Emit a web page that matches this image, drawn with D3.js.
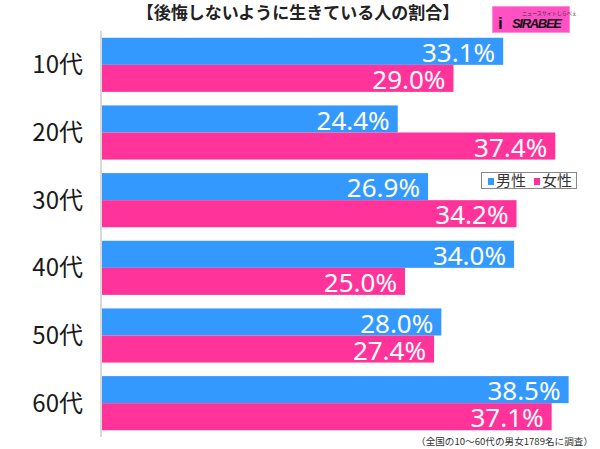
<!DOCTYPE html>
<html><head><meta charset="utf-8">
<script src="https://cdn.jsdelivr.net/npm/d3@7/dist/d3.min.js"></script>
<style>body{margin:0;background:#fff}svg{display:block}</style>
</head><body>
<svg id="c" width="600" height="449"></svg>
<script>
const categories = ["10代","20代","30代","40代","50代","60代"];
const seriesNames = ["男性","女性"];
const male = [33.1, 24.4, 26.9, 34.0, 28.0, 38.5];
const female = [29.0, 37.4, 34.2, 25.0, 27.4, 37.1];
const colors = ["#3399ff","#ff3399"];
const title = "【後悔しないように生きている人の割合】";
const footnote = "（全国の10～60代の男女1789名に調査）";

const svg = d3.select("#c");
const jp = "'Noto Sans CJK JP','Noto Sans',sans-serif";
const x = d3.scaleLinear().domain([0, 40]).range([102, 102 + 40*12.12]);
const y = d3.scaleBand().domain(categories).range([31, 437]).paddingInner(0.2).paddingOuter(0.1);
const sub = d3.scaleBand().domain(seriesNames).range([0, y.bandwidth()]);

const data = categories.map((c,i)=>({c, vals:[male[i], female[i]]}));

const g = svg.append("g");
data.forEach(d=>{
  d.vals.forEach((v,j)=>{
    g.append("rect")
      .attr("x", x(0)).attr("y", y(d.c)+sub(seriesNames[j]))
      .attr("width", x(v)-x(0)).attr("height", sub.bandwidth())
      .attr("fill", colors[j]);
  });
});
data.forEach(d=>{
  d.vals.forEach((v,j)=>{
    g.append("text")
      .attr("x", x(v)-8).attr("y", y(d.c)+sub(seriesNames[j])+sub.bandwidth()-3)
      .attr("text-anchor","end").attr("fill","#fff")
      .style("font-family","'Noto Sans',sans-serif").style("font-size","26px")
      .text(v.toFixed(1)+"%");
  });
});

// axis
const yAxis = d3.axisLeft(y).tickSize(0).tickPadding(18);
const ag = svg.append("g").attr("transform","translate(101,0)").call(yAxis);
ag.select(".domain").attr("stroke","#cccccc").attr("stroke-width",1.5).attr("d","M0,31V437");
ag.selectAll("text").style("font-family",jp).style("font-size","24px").attr("fill","#1a1a1a").attr("dy","0.35em");

// title
svg.append("text").attr("x",298).attr("y",19).attr("text-anchor","middle")
  .style("font-family",jp).style("font-size","17px").style("font-weight","bold").attr("fill","#222").text(title);

// logo
const lg = svg.append("g");
lg.append("rect").attr("x",492.5).attr("y",6.5).attr("width",77).attr("height",26).attr("fill","#ff50c4").attr("stroke","#ff8fd8");
lg.append("text").attr("x",522).attr("y",15).style("font-size","5px").style("font-family",jp).attr("fill","#333").text("ニュースサイトしらべぇ");
lg.append("text").attr("x",512).attr("y",28).attr("textLength",50).style("font-size","13px").style("font-weight","bold").style("font-style","italic")
  .style("font-family","'Liberation Sans',sans-serif").attr("fill","#111").text("SIRABEE");
lg.append("text").attr("x",498).attr("y",29).style("font-size","17px").style("font-weight","bold").style("font-family","'Liberation Sans',sans-serif").attr("fill","#111").text("i");

// legend
const leg = svg.append("g");
leg.append("rect").attr("x",481.5).attr("y",172.5).attr("width",95).attr("height",16).attr("fill","#fff").attr("stroke","#888");
seriesNames.forEach((n,j)=>{
  const ox = 488 + j*46;
  leg.append("rect").attr("x",ox).attr("y",178).attr("width",6).attr("height",7).attr("fill",colors[j]);
  leg.append("text").attr("x",ox+8).attr("y",186).style("font-family",jp).style("font-size","15px").attr("fill","#333").text(n);
});

// footnote
svg.append("text").attr("x",593).attr("y",445).attr("text-anchor","end")
  .style("font-family",jp).style("font-size","9.6px").attr("fill","#333").text(footnote);
</script>
</body></html>
